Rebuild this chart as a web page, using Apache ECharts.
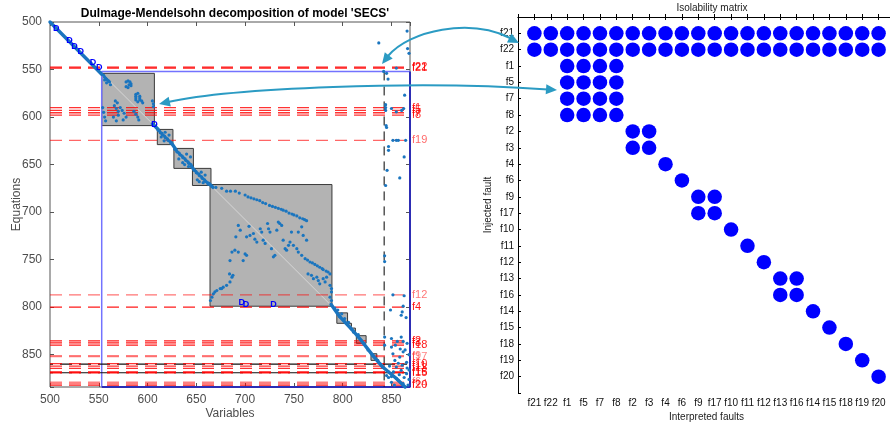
<!DOCTYPE html>
<html><head><meta charset="utf-8">
<script src="https://cdn.jsdelivr.net/npm/echarts@6.0.0/dist/echarts.min.js"></script>
<style>html,body{margin:0;padding:0;background:#fff}#c{width:890px;height:422px}</style>
</head><body><div id="c"></div>
<script>
// ---------------- DATA ----------------
// Left panel: Dulmage-Mendelsohn structure
const dmBlocks = [ // [x0, y0, x1, y1] (variables, equations)
  [553,554,607,609],[610,613,626,629],[627,633,647,654],[646,654,665,672],
  [664,671,789,799],[794,806,805,817],[806,817,809,821],[810,822,813,827],
  [814,830,824,838],[829,849,835,856]
];
const diagSegments = [ // dense diagonal runs [x0,y0,x1,y1]
  [500,500,553,555],[605,607,611,613],[625,628,629,634],[645,652,648,656],[663,670,667,674],
  [788,797,797,810],[797,810,809,823],[809,823,819,835],[819,835,831,851],
  [831,851,841,863],[841,863,855,875],[855,875,864,884]
];
const spyUpperBlocks = [
  [555,556],[556,558],[557,559],[558,560],[559,561],[560,562],[561,563],[556,561],[558,564],[562,566],
  [578,563],[580,562],[582,563],[583,565],[581,566],[583,567],[580,569],[578,568],
  [588,576],[588,578],[588,580],[588,582],[590,575],[592,578],[592,580],[592,582],[594,583],[595,585],[590,584],
  [605,583],[606,586],[606,589],
  [566,588],[568,591],[570,594],[572,590],[574,593],[576,596],[565,600],[570,598],[578,600],[575,603],[568,604],
  [586,594],[588,597],[590,600],[591,603],[554,590],[555,595],[556,600],[557,604],[567,583],[569,585],
  [611,614],[612.5,615],[613,616.5],[614.5,617],[615,618.5],[616,619],[617.5,620],[618,621.5],[619,622],[620.5,623],[621,624.5],[622,625],[623.5,626],[624,627.5],
  [618,616],[622,619],[614,621],[617,625],
  [628,634],[629.5,635],[630,636.5],[631,637],[632.5,638],[633,639.5],[634,640],[635.5,641],[636,642.5],[637,643],[638.5,644],[639,645.5],[640,646],[641.5,647],[642,648.5],[643,649],[644.5,650],[645,651.5],
  [640,639],[644,642],[632,644],[636,648],[642,652],[638,650],
  [648,656],[649.5,657],[650,658.5],[651,659],[652.5,660],[653,661.5],[654,662],[655.5,663],[656,664.5],[657,665],[658.5,666],[659,667.5],[660,668],[661.5,669],[662,670.5],
  [655,658],[659,661],[651,666],[657,669],[653,668]
];
const spyBigBlock = [
  [666,673],[670,674],[676,675],[681,678],[685,678],[690,678],[694,680],[700,682],[703,684],[706,685],[709,686],[712,687],[715,688],
  [718,690],[721,691],[725,693],[728,694],[731,695],[734,696],[737,697],[739,698],[742,699],[745,701],[748,702],[750,703],[753,704],
  [756,706],[759,707],[761,708],[763,709],
  [693,714],[695,719],[704,715],[705,724.5],[690.5,726],[701.5,726],[708.5,722.5],[710,728.5],[712,731.5],[715.5,717.5],[717,721],
  [718.5,729.5],[720.5,733],[723,712],[724,717.5],[725.5,721],[727,738.5],[729,747],[730.5,745.5],[732.5,719],[734,710.5],[735.5,712],
  [737.5,714],[739,729.5],[741,738.5],[742.5,740],[744.5,735],[746,731.5],[747.5,721],[749.5,735],[753,738.5],[754.5,721],[758,715.5],
  [759.5,724.5],[763,729.5],
  [684.5,751],[686.5,742],[689.5,740],[693,742],[698,751],[700,744],[701.5,745.5],[684,765],[686.5,768.5],[684.5,773.5],[681,777],
  [677.5,779],[674.5,780.5],[671,782.5],[667.5,786],[666,789.5],[664.5,793],[669,784],[676,780.5],[687.5,766.5],
  [754.5,742],[758,745.5],[761.5,749],[764,750.5],[766.5,752.5],[769,753.5],[771.5,755],[774,756.5],[776.5,758],[779,759.5],
  [780,760.5],[783,762],[785,763],[787,765],
  [764.5,765],[768,766.5],[770,770],[773.5,768.5],[775,772],[776.5,775.5],[780,770],[782,773.5],[783.5,768.5],[787,777],
  [788.5,780.5],[788.5,784],[787,789.5],[788.5,793]
];
const spyRightColumns = [
  [837,522],[866,509.5],[866.5,528],[868,533],[855,548.5],[842,552],[845,554],[846.5,560],[863.5,577],[844,587],[844,590],
  [844,593],[850,591],[855,594.5],[860.5,593],[862.5,591],[844.5,609],[845,611],[847,631],[847,635],[851.5,624.5],[855,624.5],
  [857,624.5],[864.5,624.5],[863,642],[845.5,656],[858.5,664],[844,672],[843,746],[843,752],
  [851.5,787],[863,788],[862,799],[849,803],[861,805],[860,808.5],[865,811],
  [792,801],[795,803],[799,807],[802,812],[806,816],[811,826],[816,829],[822,838],[826,845],[836,856],[839,860],[847,868],[850,873],
  [843,831.5],[850,833],[860,831.5],[850,842],[851.5,849],[853.5,856],[858.5,852.5],[862,847],[855,863],[860,866.5],[865.5,858],
  [865.5,870],[850,879],[857,877],[862,880.5],[867,882],[845,872],[843,840],[856,836],[862,836],[866,838],[854,840],[859,844],
  [864,845],[868,850],[857,859],[861,861],[866,864],[852,868],[858,871],[863,874],[868,876],[848,862],[847,874],[853,882],[868,866]
];
const dmMarks = [[506.5,506.5],[520,519.5],[525,525.5],[531.5,531],[544,543],[550.5,548],[607,608],[696.5,795.5],[701,797],[729,797.5]];
const faultLineNames = ['f22','f21','f1','f5','f7','f8','f19','f12','f4','f2','f3','f18','f9','f17','f10','f11','f13','f16','f15','f6','f14','f20'];
const faultLineRows  = [547.5,548.5,590,593,595.5,598,624.5,787,800,835.5,837.5,840,851,852,859.5,862,864.5,868,869,879,880.5,882];
const faultLineAlpha = [0.9,0.9,0.8,0.8,0.8,0.8,0.6,0.55,0.9,0.9,0.9,0.9,0.5,0.5,0.8,0.8,0.8,0.9,0.9,0.5,0.5,0.9];
const blackLineRows = [860,869];
const xTicksLeft = [500,550,600,650,700,750,800,850];
const yTicksLeft = [500,550,600,650,700,750,800,850];

// Right panel: isolability matrix
const isoNames = ['f21','f22','f1','f5','f7','f8','f2','f3','f4','f6','f9','f17','f10','f11','f12','f13','f16','f14','f15','f18','f19','f20'];
const isoMatrix = [
  '1111111111111111111111', // f21
  '1111111111111111111111', // f22
  '0011110000000000000000', // f1
  '0011110000000000000000', // f5
  '0011110000000000000000', // f7
  '0011110000000000000000', // f8
  '0000001100000000000000', // f2
  '0000001100000000000000', // f3
  '0000000010000000000000', // f4
  '0000000001000000000000', // f6
  '0000000000110000000000', // f9
  '0000000000110000000000', // f17
  '0000000000001000000000', // f10
  '0000000000000100000000', // f11
  '0000000000000010000000', // f12
  '0000000000000001100000', // f13
  '0000000000000001100000', // f16
  '0000000000000000010000', // f14
  '0000000000000000001000', // f15
  '0000000000000000000100', // f18
  '0000000000000000000010', // f19
  '0000000000000000000001'  // f20
];

// ---------------- CHART ----------------
const FONT = 'Liberation Sans, Arial, Helvetica, sans-serif';
const SPY = '#1a75bf';
const chart = echarts.init(document.getElementById('c'), null, {renderer:'canvas'});

const isoData = [];
isoMatrix.forEach((row, r) => { for (let c = 0; c < row.length; c++) if (row[c] === '1') isoData.push([c + 1, r + 1]); });

const series = [];
series.push({
  type:'custom', xAxisIndex:0, yAxisIndex:0, z:1, silent:true,
  encode:{x:[0,2], y:[1,3]}, data: dmBlocks,
  renderItem(params, api){
    const a = api.coord([api.value(0), api.value(1)]);
    const b = api.coord([api.value(2), api.value(3)]);
    return {type:'group', children:[
      {type:'rect', shape:{x:a[0], y:a[1], width:b[0]-a[0], height:b[1]-a[1]}, style:{fill:'#b3b3b3', stroke:'#3a3a3a', lineWidth:1}},
      {type:'line', shape:{x1:a[0], y1:a[1], x2:b[0], y2:b[1]}, style:{stroke:'rgba(255,255,255,0.65)', lineWidth:0.7}}
    ]};
  }
});
series.push({type:'line', xAxisIndex:0, yAxisIndex:0, z:2, silent:true, symbol:'none',
  data:[[553,884],[553,552],[869,552]], lineStyle:{color:'#7373ff', width:1.5}});
series.push({type:'line', xAxisIndex:0, yAxisIndex:0, z:2, silent:true, symbol:'none',
  data:[[869,552],[869,884],[553,884]], lineStyle:{color:'#2d2db4', width:2}});
series.push({type:'line', xAxisIndex:0, yAxisIndex:0, z:2, silent:true, symbol:'none',
  data:[[842.5,552],[842.5,884]], lineStyle:{color:'#000', width:1, type:[9,6]}});
blackLineRows.forEach(y => series.push({type:'line', xAxisIndex:0, yAxisIndex:0, z:3, silent:true, symbol:'none',
  data:[[500,y],[866,y]], lineStyle:{color:'#111', width:1.2, type:[12,7], dashOffset:9}}));
faultLineNames.forEach((n, i) => {
  const col = 'rgba(255,0,0,' + faultLineAlpha[i] + ')';
  series.push({type:'line', name:n, xAxisIndex:0, yAxisIndex:0, z:3, silent:true, symbol:'none',
    data:[[500, faultLineRows[i]], [869, faultLineRows[i]]],
    lineStyle:{color:col, width:1.3, type:[12,7]},
    endLabel:{show:true, formatter:n, color:col, fontSize:11, fontFamily:FONT, distance:2}
  });
});
series.push({
  type:'custom', xAxisIndex:0, yAxisIndex:0, z:4, silent:true,
  encode:{x:[0,2], y:[1,3]}, data: diagSegments,
  renderItem(params, api){
    const a = api.coord([api.value(0), api.value(1)]);
    const b = api.coord([api.value(2), api.value(3)]);
    return {type:'line', shape:{x1:a[0], y1:a[1], x2:b[0], y2:b[1]}, style:{stroke:SPY, lineWidth:3.4, lineCap:'round'}};
  }
});
[spyUpperBlocks, spyBigBlock, spyRightColumns].forEach(d => series.push({
  type:'scatter', xAxisIndex:0, yAxisIndex:0, z:5, silent:true, symbol:'circle', symbolSize:3.2,
  itemStyle:{color:SPY, opacity:1}, data:d
}));
series.push({
  type:'custom', xAxisIndex:0, yAxisIndex:0, z:6, silent:true, data: dmMarks,
  renderItem(params, api){
    const p = api.coord([api.value(0), api.value(1)]);
    return {type:'text', style:{x:p[0], y:p[1], text:'D', fill:'#0000ff', font:'bold 9px ' + FONT, align:'center', verticalAlign:'middle'}};
  }
});
series.push({type:'scatter', xAxisIndex:2, yAxisIndex:2, silent:true, symbol:'circle', symbolSize:14.5,
  itemStyle:{color:'#0000ff', opacity:1}, data: isoData});

function head(tip, from, len, w){
  const dx = tip[0]-from[0], dy = tip[1]-from[1];
  const L = Math.hypot(dx, dy), ux = dx/L, uy = dy/L;
  const bx = tip[0]-ux*len, by = tip[1]-uy*len;
  return [[tip[0],tip[1]],[bx-uy*w, by+ux*w],[bx+uy*w, by-ux*w]];
}
const AR = '#2b9bc3';
const graphic = [
  {type:'bezierCurve', z:100, shape:{x1:388,y1:56,cpx1:410,cpy1:30,cpx2:470,cpy2:18,x2:510,y2:38}, style:{stroke:AR, lineWidth:2, fill:null}},
  {type:'polygon', z:100, shape:{points:head([382,64],[396,46],11,5)}, style:{fill:AR}},
  {type:'polygon', z:100, shape:{points:head([519,43],[470,18],11,5)}, style:{fill:AR}},
  {type:'bezierCurve', z:100, shape:{x1:168,y1:102,cpx1:230,cpy1:88,cpx2:420,cpy2:80,x2:548,y2:89.5}, style:{stroke:AR, lineWidth:2, fill:null}},
  {type:'polygon', z:100, shape:{points:head([159,104],[230,88],11,5)}, style:{fill:AR}},
  {type:'polygon', z:100, shape:{points:head([557,90],[420,80],11,5)}, style:{fill:AR}}
];

const tickL = {inside:true, length:4, lineStyle:{color:'#555'}};
const tickR = {inside:true, length:3, lineStyle:{color:'#000'}};
const option = {
  animation:false,
  backgroundColor:'#fff',
  title:[
    {text:"Dulmage-Mendelsohn decomposition of model 'SECS'", left:230, top:3, textAlign:'center',
      textStyle:{fontSize:12, fontWeight:'bold', color:'#000', fontFamily:FONT}},
    {text:'Isolability matrix', left:707, top:-2, textAlign:'center',
      textStyle:{fontSize:10, fontWeight:'normal', color:'#222', fontFamily:FONT}}
  ],
  grid:[
    {left:50, top:22, width:360, height:365, show:true, borderColor:'#555', borderWidth:1, backgroundColor:'rgba(0,0,0,0)', containLabel:false, outerBoundsMode:'none'},
    {left:518, top:17, width:377, height:376, show:false, containLabel:false, outerBoundsMode:'none'}
  ],
  xAxis:[
    {gridIndex:0, type:'value', min:500, max:869, interval:50, position:'bottom',
      axisLine:{show:false}, axisTick:tickL, splitLine:{show:false},
      axisLabel:{color:'#4d4d4d', fontSize:12, margin:7, fontFamily:FONT, formatter: v => xTicksLeft.includes(v) ? String(v) : ''},
      name:'Variables', nameLocation:'middle', nameGap:21, nameMoveOverlap:false, nameTextStyle:{color:'#4d4d4d', fontSize:12, fontFamily:FONT}},
    {gridIndex:0, type:'value', min:500, max:869, interval:50, position:'top',
      axisLine:{show:false}, axisTick:tickL, splitLine:{show:false}, axisLabel:{show:false}},
    {gridIndex:1, type:'value', min:0, max:23, interval:1, position:'bottom',
      axisLine:{show:true, lineStyle:{color:'#000', width:1}}, axisTick:tickR, splitLine:{show:false},
      axisLabel:{color:'#111', fontSize:10, margin:5, fontFamily:FONT, formatter: v => isoNames[v-1] || ''},
      name:'Interpreted faults', nameLocation:'middle', nameGap:19, nameMoveOverlap:false, nameTextStyle:{color:'#222', fontSize:10, fontFamily:FONT}},
    {gridIndex:1, type:'value', min:0, max:23, interval:1, position:'top',
      axisLine:{show:true, lineStyle:{color:'#000', width:1}}, axisTick:tickR, splitLine:{show:false}, axisLabel:{show:false}}
  ],
  yAxis:[
    {gridIndex:0, type:'value', min:500, max:884, interval:50, inverse:true, position:'left',
      axisLine:{show:false}, axisTick:tickL, splitLine:{show:false},
      axisLabel:{color:'#4d4d4d', fontSize:12, margin:8, fontFamily:FONT, formatter: v => yTicksLeft.includes(v) ? String(v) : ''},
      name:'Equations', nameLocation:'middle', nameGap:27, nameMoveOverlap:false, nameTextStyle:{color:'#4d4d4d', fontSize:12, fontFamily:FONT}},
    {gridIndex:0, type:'value', min:500, max:884, interval:50, inverse:true, position:'right',
      axisLine:{show:false}, axisTick:tickL, splitLine:{show:false}, axisLabel:{show:false}},
    {gridIndex:1, type:'value', min:0, max:23, interval:1, inverse:true, position:'left',
      axisLine:{show:true, lineStyle:{color:'#000', width:1}}, axisTick:tickR, splitLine:{show:false},
      axisLabel:{color:'#111', fontSize:10, margin:4, fontFamily:FONT, formatter: v => isoNames[v-1] || ''},
      name:'Injected fault', nameLocation:'middle', nameGap:25, nameMoveOverlap:false, nameTextStyle:{color:'#222', fontSize:10, fontFamily:FONT}}
  ],
  series: series,
  graphic: graphic
};
chart.setOption(option);
</script></body></html>
